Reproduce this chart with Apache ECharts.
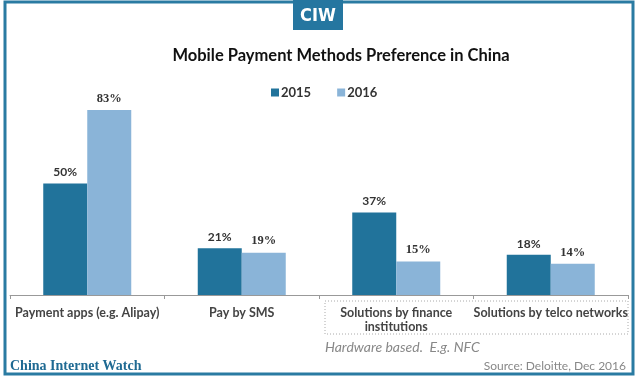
<!DOCTYPE html>
<html><head><meta charset="utf-8">
<script src="https://cdn.jsdelivr.net/npm/echarts@6/dist/echarts.min.js"></script>
<style>html,body{margin:0;padding:0;background:#fff}#c{width:638px;height:381px}</style>
</head><body><div id="c"></div>
<script>
const categories = ['Payment apps (e.g. Alipay)', 'Pay by SMS', 'Solutions by finance\ninstitutions', 'Solutions by telco networks'];
const series2015 = [50, 21, 37, 18];
const series2016 = [83, 19, 15, 14];
const seriesNames = ['2015', '2016'];

const chart = echarts.init(document.getElementById('c'));
const dark = '#21739B', light = '#8AB4D8', frame = '#2A7BA2';
chart.setOption({
  animation: false,
  title: {
    text: 'Mobile Payment Methods Preference in China',
    left: 336, top: 42, textAlign: 'center',
    textStyle: {fontFamily: 'Lato', fontWeight: 'bold', fontSize: 16.5, color: '#111'}
  },
  legend: {
    data: seriesNames, top: 81, left: 266, itemGap: 26,
    itemWidth: 8, itemHeight: 8, icon: 'rect',
    textStyle: {fontFamily: 'Lato', fontWeight: 'bold', fontSize: 13, color: '#333', padding: [0,0,0,-3]}
  },
  grid: {left: 10, right: 10, top: 72, bottom: 86},
  xAxis: {
    type: 'category', data: categories,
    axisLine: {lineStyle: {color: '#999', width: 1}},
    axisTick: {show: true, length: 4, lineStyle: {color: '#999'}},
    axisLabel: {interval: 0, margin: 11, fontFamily: 'Lato', fontWeight: 'bold', fontSize: 12.5, color: '#444', lineHeight: 14}
  },
  yAxis: {type: 'value', min: 0, max: 100, show: false, splitLine: {show: false}},
  series: [
    {name: '2015', type: 'bar', data: series2015, barWidth: 44, barGap: '0%',
     itemStyle: {color: dark},
     label: {show: true, position: 'top', distance: 5, formatter: '{c}%', fontFamily: 'Lato', fontWeight: 'bold', fontSize: 12, color: '#333'}},
    {name: '2016', type: 'bar', data: series2016, barWidth: 44,
     itemStyle: {color: light},
     label: {show: true, position: 'top', distance: 5, formatter: '{c}%', fontFamily: 'Liberation Serif', fontWeight: 'bold', fontSize: 12.5, color: '#333'}}
  ],
  graphic: [
    {type: 'rect', shape: {x: 5, y: 2, width: 628, height: 372}, style: {fill: 'none', stroke: frame, lineWidth: 3}, z: 100},
    {type: 'rect', shape: {x: 293, y: 0, width: 50, height: 30}, style: {fill: '#2576A0'}, z: 101},
    {type: 'text', x: 318, y: 16, style: {text: 'CIW', fill: '#fff', font: 'bold 18px "Liberation Sans Narrow", "DejaVu Sans Condensed", sans-serif', align: 'center', verticalAlign: 'middle'}, z: 102},
    {type: 'rect', shape: {x: 325, y: 301, width: 303, height: 33}, style: {fill: 'none', stroke: '#aaa', lineWidth: 1, lineDash: [1, 2]}, z: 50},
    {type: 'text', x: 325, y: 347, style: {text: 'Hardware based.  E.g. NFC', fill: '#888', font: 'italic 14px Lato', verticalAlign: 'middle'}},
    {type: 'text', x: 10, y: 366, style: {text: 'China Internet Watch', fill: '#1F6A93', font: 'bold 14px "Liberation Serif"', verticalAlign: 'middle'}},
    {type: 'text', x: 626, y: 366, style: {text: 'Source: Deloitte, Dec 2016', fill: '#888', font: '12px Lato', align: 'right', verticalAlign: 'middle'}}
  ]
});
</script></body></html>
